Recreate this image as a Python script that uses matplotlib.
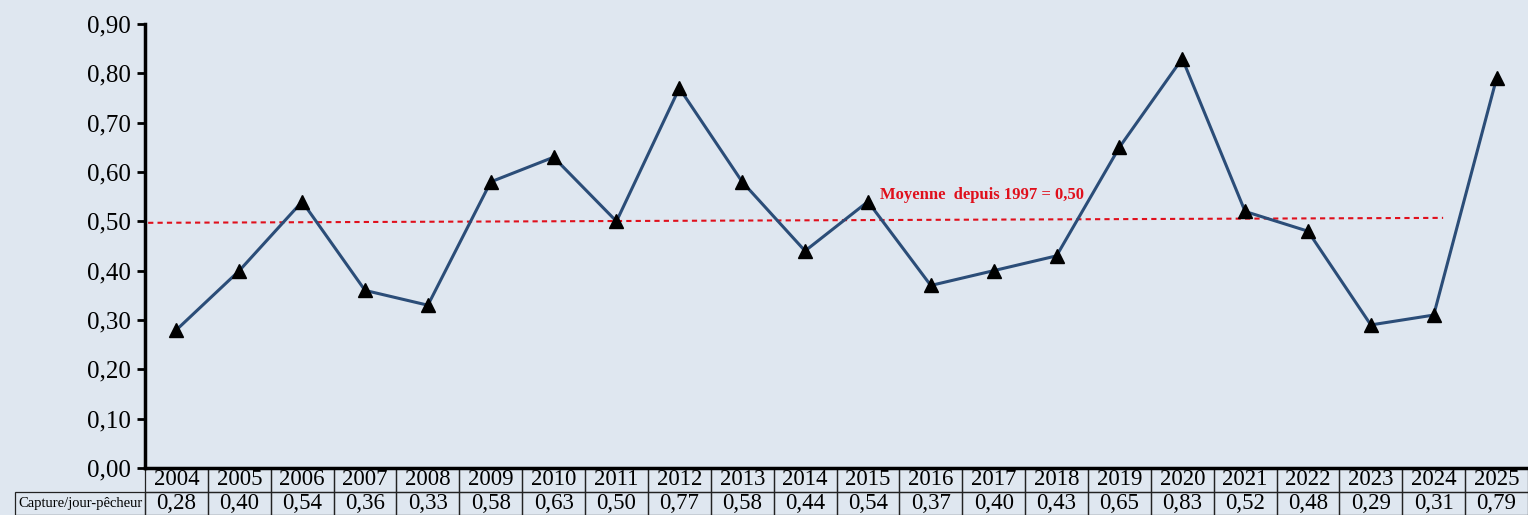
import matplotlib.pyplot as plt
import numpy as np

# Daten
annees = [str(a) for a in range(2004, 2026)]
capture = [0.28, 0.40, 0.54, 0.36, 0.33, 0.58, 0.63, 0.50, 0.77, 0.58, 0.44,
           0.54, 0.37, 0.40, 0.43, 0.65, 0.83, 0.52, 0.48, 0.29, 0.31, 0.79]
moyenne_debut = 0.497
moyenne_fin = 0.507
moyenne_texte = "Moyenne  depuis 1997 = 0,50"
ligne_label = "Capture/jour-pêcheur"

fond = "#dfe7f0"
plt.rcParams["font.family"] = ["Liberation Serif", "DejaVu Serif"]

fig = plt.figure(figsize=(15.28, 5.15), dpi=100, facecolor=fond)
ax = fig.add_axes([145 / 1528, 47 / 515, 1383 / 1528, 444 / 515])
ax.set_facecolor(fond)

x = np.arange(len(annees))
ax.plot(x, capture, color="#2b4d78", linewidth=2.2, zorder=3)
ax.plot(x, capture, linestyle="none", marker="^", markersize=10,
        color="black", zorder=4)

# Mittelwertlinie
ax.plot([-0.45, 20.15], [moyenne_debut, moyenne_fin], color="#e0101c",
        linestyle=(0, (2.5, 2)), linewidth=1.5, zorder=2)
ax.text(11.19, 0.537, moyenne_texte, color="#e0101c", fontsize=12,
        fontweight="bold", va="bottom", ha="left")

ax.set_xlim(-0.5, len(annees) - 0.5)
ax.set_ylim(0, 0.9)
yt = np.arange(0, 0.91, 0.1)
ax.set_yticks(yt)
ax.set_yticklabels([f"{v:.2f}".replace(".", ",") for v in yt], fontsize=18)
ax.tick_params(axis="y", length=6, width=2, direction="out", pad=4)
ax.set_xticks([])
for s in ["top", "right"]:
    ax.spines[s].set_visible(False)
ax.spines["left"].set_linewidth(2.5)
ax.spines["bottom"].set_linewidth(2.5)

# Tabelle unter der Achse
breite = 1383
label_w = 130
zellen = [[""] + annees,
          [ligne_label] + [f"{v:.2f}".replace(".", ",") for v in capture]]
col_w = [label_w / breite] + [1 / len(annees)] * len(annees)
tab = ax.table(cellText=zellen, colWidths=col_w, cellLoc="center",
               bbox=[-label_w / breite, -47 / 444, 1 + label_w / breite, 47 / 444])
tab.auto_set_font_size(False)
for (r, c), zelle in tab.get_celld().items():
    zelle.set_facecolor("none")
    zelle.set_linewidth(0.9)
    zelle.set_edgecolor("#222222")
    if c == 0:
        if r == 0:
            zelle.visible_edges = ""
        zelle.get_text().set_fontsize(10.5)
    else:
        zelle.get_text().set_fontsize(16.5)

fig.savefig("out.png", dpi=100, facecolor=fond)
